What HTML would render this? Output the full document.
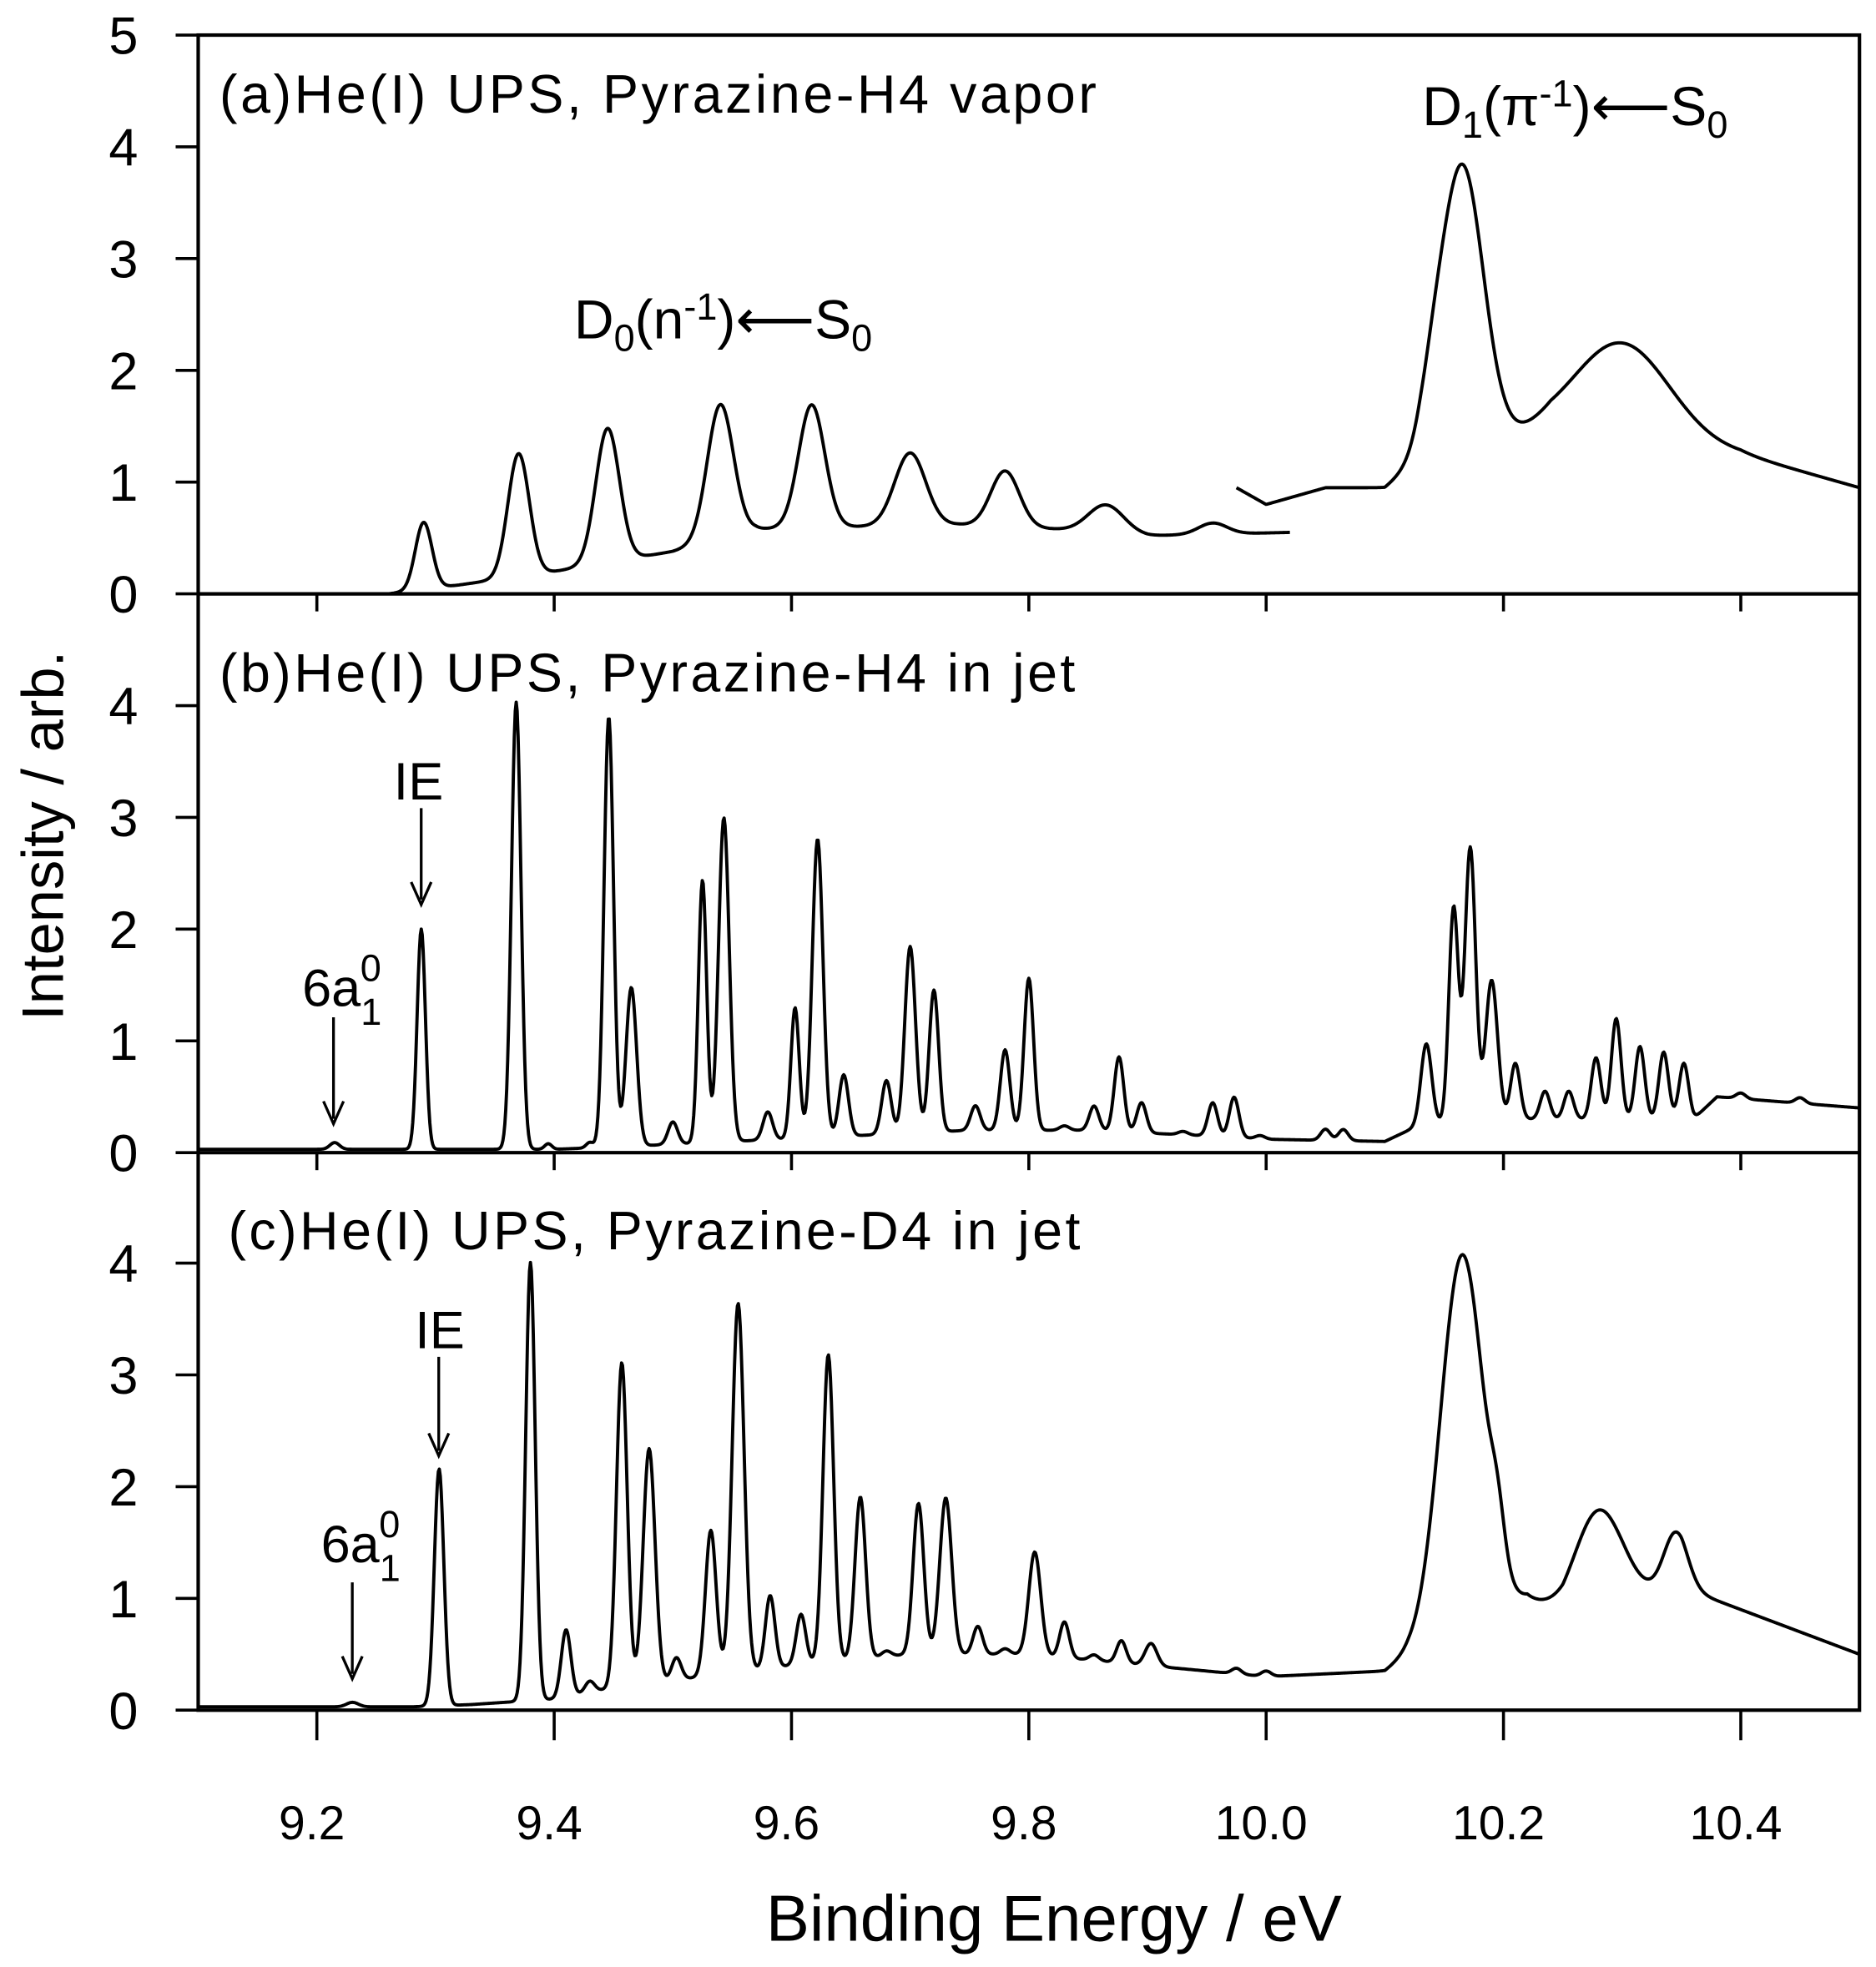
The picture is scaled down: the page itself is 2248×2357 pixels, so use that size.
<!DOCTYPE html>
<html><head><meta charset="utf-8"><style>
html,body{margin:0;padding:0;background:#fff}
svg{display:block}
text{font-family:"Liberation Sans",Arial,sans-serif;fill:#000}
</style></head><body>
<svg id="chart" width="2248" height="2357" viewBox="0 0 1497 1570" xmlns="http://www.w3.org/2000/svg">
<g id="frame"></g>
<g id="curves"></g>
<g id="labels">
<text x="175" y="90" font-size="43" textLength="700">(a)He(I) UPS, Pyrazine-H4 vapor</text>
<text x="175" y="552" font-size="43" textLength="683">(b)He(I) UPS, Pyrazine-H4 in jet</text>
<text x="182" y="997" font-size="43" textLength="680">(c)He(I) UPS, Pyrazine-D4 in jet</text>
<text x="1135" y="100" font-size="44">D<tspan font-size="30" dy="10">1</tspan><tspan dy="-10">(π</tspan><tspan font-size="30" dy="-15">-1</tspan><tspan dy="15">)</tspan><tspan font-family="DejaVu Sans">⟵</tspan><tspan>S</tspan><tspan font-size="30" dy="10">0</tspan></text>
<text x="458" y="270" font-size="44">D<tspan font-size="30" dy="10">0</tspan><tspan dy="-10">(n</tspan><tspan font-size="30" dy="-15">-1</tspan><tspan dy="15">)</tspan><tspan font-family="DejaVu Sans">⟵</tspan><tspan>S</tspan><tspan font-size="30" dy="10">0</tspan></text>
<text x="314" y="638" font-size="42">IE</text>
<text x="241" y="803" font-size="42">6a<tspan font-size="30" dy="15">1</tspan><tspan font-size="30" dx="-17" dy="-35">0</tspan></text>
<text x="331" y="1076" font-size="42">IE</text>
<text x="256" y="1247" font-size="42">6a<tspan font-size="30" dy="15">1</tspan><tspan font-size="30" dx="-17" dy="-35">0</tspan></text>
<text transform="translate(50,667) rotate(-90)" text-anchor="middle" font-size="47">Intensity / arb.</text>
<text x="841" y="1549" text-anchor="middle" font-size="52">Binding Energy / eV</text>
</g>
</svg>
<script>
// ---- data ----
const xTicks = [9.2, 9.4, 9.6, 9.8, 10.0, 10.2, 10.4];
const xTickLabels = ["9.2", "9.4", "9.6", "9.8", "10.0", "10.2", "10.4"];
const yTicksA = [0, 1, 2, 3, 4, 5];
const yTicksBC = [0, 1, 2, 3, 4];
// panel a, segment 1
const a1Range = [9.26, 10.02];
const a1BaseX = [9.26, 9.32, 9.40, 9.50, 9.57, 9.65, 9.74, 9.82, 9.90, 10.02];
const a1BaseY = [0, 0.08, 0.2, 0.38, 0.58, 0.6, 0.62, 0.58, 0.52, 0.55];
const a1PeakPos = [9.29, 9.37, 9.445, 9.54, 9.617, 9.70, 9.78, 9.865, 9.955];
const a1PeakHt = [0.6, 1.1, 1.2, 1.2, 1.1, 0.65, 0.5, 0.25, 0.1];
const a1PeakW = [0.007, 0.009, 0.01, 0.011, 0.011, 0.013, 0.012, 0.015, 0.012];
// panel a, segment 2
const a2Range = [9.975, 10.5];
const a2BaseX = [9.975, 10.0, 10.05, 10.1, 10.13, 10.24, 10.40, 10.5];
const a2BaseY = [0.95, 0.8, 0.95, 0.95, 1.2, 1.45, 1.25, 0.95];
const a2PeakPos = [10.14, 10.165, 10.30];
const a2PeakHt = [0.3, 2.55, 0.87];
const a2PeakW = [0.01, 0.018, 0.04];
// panel b
const bRange = [9.1, 10.5];
const bBaseX = [9.1, 9.4, 9.45, 9.55, 9.65, 9.75, 9.85, 9.95, 10.0, 10.1, 10.13, 10.2, 10.3, 10.36, 10.38, 10.5];
const bBaseY = [0.03, 0.03, 0.05, 0.1, 0.15, 0.2, 0.2, 0.15, 0.12, 0.1, 0.25, 0.3, 0.3, 0.3, 0.5, 0.4];
const bPeakPos = [9.215, 9.288, 9.368, 9.395, 9.43, 9.446, 9.465, 9.50, 9.525, 9.543, 9.58, 9.603, 9.622, 9.644, 9.68, 9.70, 9.72, 9.755, 9.78, 9.80, 9.83, 9.855, 9.876, 9.895, 9.93, 9.955, 9.973, 9.995, 10.05, 10.065, 10.135, 10.158, 10.172, 10.19, 10.21, 10.235, 10.255, 10.278, 10.295, 10.315, 10.335, 10.352, 10.40, 10.45];
const bPeakHt = [0.06, 1.97, 4.0, 0.05, 0.05, 3.85, 1.42, 0.2, 2.35, 2.9, 0.25, 1.17, 2.67, 0.55, 0.48, 1.67, 1.27, 0.22, 0.72, 1.36, 0.04, 0.22, 0.67, 0.27, 0.03, 0.3, 0.36, 0.03, 0.1, 0.1, 0.72, 1.92, 2.45, 1.25, 0.5, 0.25, 0.25, 0.55, 0.9, 0.65, 0.6, 0.5, 0.05, 0.05];
const bPeakW = [0.004, 0.0035, 0.004, 0.003, 0.003, 0.004, 0.0045, 0.004, 0.0035, 0.0045, 0.004, 0.0035, 0.0045, 0.004, 0.004, 0.0045, 0.004, 0.004, 0.004, 0.004, 0.004, 0.004, 0.004, 0.004, 0.004, 0.004, 0.004, 0.004, 0.004, 0.004, 0.0045, 0.004, 0.0045, 0.005, 0.004, 0.004, 0.004, 0.004, 0.004, 0.004, 0.004, 0.004, 0.004, 0.004];
// panel c
const cRange = [9.1, 10.5];
const cBaseX = [9.1, 9.28, 9.33, 9.40, 9.45, 9.6, 9.7, 9.8, 9.9, 10.0, 10.1, 10.12, 10.22, 10.25, 10.3, 10.35, 10.4, 10.5];
const cBaseY = [0.03, 0.03, 0.05, 0.1, 0.2, 0.4, 0.5, 0.5, 0.4, 0.3, 0.35, 0.5, 1.0, 0.85, 1.0, 1.1, 0.9, 0.5];
const cPeakPos = [9.23, 9.303, 9.38, 9.41, 9.43, 9.457, 9.48, 9.503, 9.532, 9.555, 9.582, 9.608, 9.631, 9.658, 9.68, 9.707, 9.73, 9.757, 9.78, 9.805, 9.83, 9.855, 9.878, 9.903, 9.975, 10.0, 10.165, 10.195, 10.28, 10.345];
const cPeakHt = [0.04, 2.12, 3.92, 0.6, 0.1, 2.9, 2.1, 0.2, 1.3, 3.3, 0.65, 0.45, 2.75, 1.45, 0.05, 1.35, 1.4, 0.25, 0.05, 0.92, 0.32, 0.05, 0.2, 0.2, 0.05, 0.05, 3.35, 0.4, 0.85, 0.5];
const cPeakW = [0.005, 0.004, 0.004, 0.004, 0.004, 0.0045, 0.005, 0.004, 0.0045, 0.005, 0.004, 0.004, 0.0045, 0.0045, 0.004, 0.0045, 0.005, 0.004, 0.004, 0.005, 0.004, 0.004, 0.004, 0.005, 0.004, 0.004, 0.018, 0.006, 0.02, 0.01];

// ---- axes ----
const X0 = 158, X1 = 1484, E0 = 9.1, E1 = 10.5;
const zeroA = 474, zeroB = 920, zeroC = 1365, PX = 89.2;
function xs(e) { return X0 + (e - E0) / (E1 - E0) * (X1 - X0); }
function ys(v, zero) { return zero - v * PX; }
const NS = "http://www.w3.org/2000/svg";
function mk(tag, attrs, parent) {
  const el = document.createElementNS(NS, tag);
  for (const k in attrs) el.setAttribute(k, attrs[k]);
  parent.appendChild(el);
  return el;
}
function interp(xa, ya, x) {
  if (x <= xa[0]) return ya[0];
  for (let i = 1; i < xa.length; i++) if (x <= xa[i]) {
    const t = (x - xa[i-1]) / (xa[i] - xa[i-1]); return ya[i-1] + t * (ya[i] - ya[i-1]);
  }
  return ya[ya.length - 1];
}
function spectrum(range, bx, by, pp, ph, pw, zero, name, parent) {
  let d = "";
  for (let e = range[0]; e <= range[1] + 1e-9; e += 0.0008) {
    let v = interp(bx, by, e);
    for (let i = 0; i < pp.length; i++) { const z = (e - pp[i]) / pw[i]; v += ph[i] * Math.exp(-0.5 * z * z); }
    d += (d ? "L" : "M") + xs(e).toFixed(2) + "," + ys(v, zero).toFixed(2);
  }
  const p = mk("path", { d: d, fill: "none", stroke: "#000", "stroke-width": "2.6", "stroke-linejoin": "round" }, parent);
  
  
}
const frame = document.getElementById("frame");
const curves = document.getElementById("curves");
const box = mk("rect", { x: X0, y: 28, width: X1 - X0, height: zeroC - 28, fill: "none", stroke: "#000", "stroke-width": "2.8" }, frame);


[zeroA, zeroB].forEach(function (z) {
  const l = mk("line", { x1: X0, x2: X1, y1: z, y2: z, stroke: "#000", "stroke-width": "2.8" }, frame);
  
  
  xTicks.forEach(function (t) {
    const tk = mk("line", { x1: xs(t), x2: xs(t), y1: z, y2: z + 14, stroke: "#000", "stroke-width": "2.4" }, frame);
    
    
  });
});
xTicks.forEach(function (t, i) {
  const tk = mk("line", { x1: xs(t), x2: xs(t), y1: zeroC, y2: zeroC + 24, stroke: "#000", "stroke-width": "2.4" }, frame);
  
  
  const tl = mk("text", { x: xs(t) - 4, y: 1468, "text-anchor": "middle", "font-size": "38" }, frame);
  tl.textContent = xTickLabels[i];
  
  
});
function yAxis(ticks, zero) {
  ticks.forEach(function (t) {
    const y = ys(t, zero);
    const tk = mk("line", { x1: X0 - 18, x2: X0, y1: y, y2: y, stroke: "#000", "stroke-width": "2.4" }, frame);
    
    
    const tl = mk("text", { x: 110, y: y + 15, "text-anchor": "end", "font-size": "42" }, frame);
    tl.textContent = String(t);
    
    
  });
}
yAxis(yTicksA, zeroA); yAxis(yTicksBC, zeroB); yAxis(yTicksBC, zeroC);
spectrum(a1Range, a1BaseX, a1BaseY, a1PeakPos, a1PeakHt, a1PeakW, zeroA, "vapor-spectrum-d0", curves);
spectrum(a2Range, a2BaseX, a2BaseY, a2PeakPos, a2PeakHt, a2PeakW, zeroA, "vapor-spectrum-d1", curves);
spectrum(bRange, bBaseX, bBaseY, bPeakPos, bPeakHt, bPeakW, zeroB, "h4-jet-spectrum", curves);
spectrum(cRange, cBaseX, cBaseY, cPeakPos, cPeakHt, cPeakW, zeroC, "d4-jet-spectrum", curves);
function arrow(x, y1, y2, name) {
  const g = mk("g", {}, document.getElementById("labels"));
  
  
  mk("line", { x1: x, x2: x, y1: y1, y2: y2 - 4, stroke: "#000", "stroke-width": "2.2" }, g);
  mk("path", { d: "M" + (x - 8) + "," + (y2 - 18) + "L" + x + "," + y2 + "L" + (x + 8) + "," + (y2 - 18), fill: "none", stroke: "#000", "stroke-width": "2.2" }, g);
}
arrow(336, 645, 722, "ie-arrow-b");
arrow(266, 812, 897, "6a-arrow-b");
arrow(350, 1083, 1162, "ie-arrow-c");
arrow(281, 1263, 1340, "6a-arrow-c");
</script>
</body></html>
